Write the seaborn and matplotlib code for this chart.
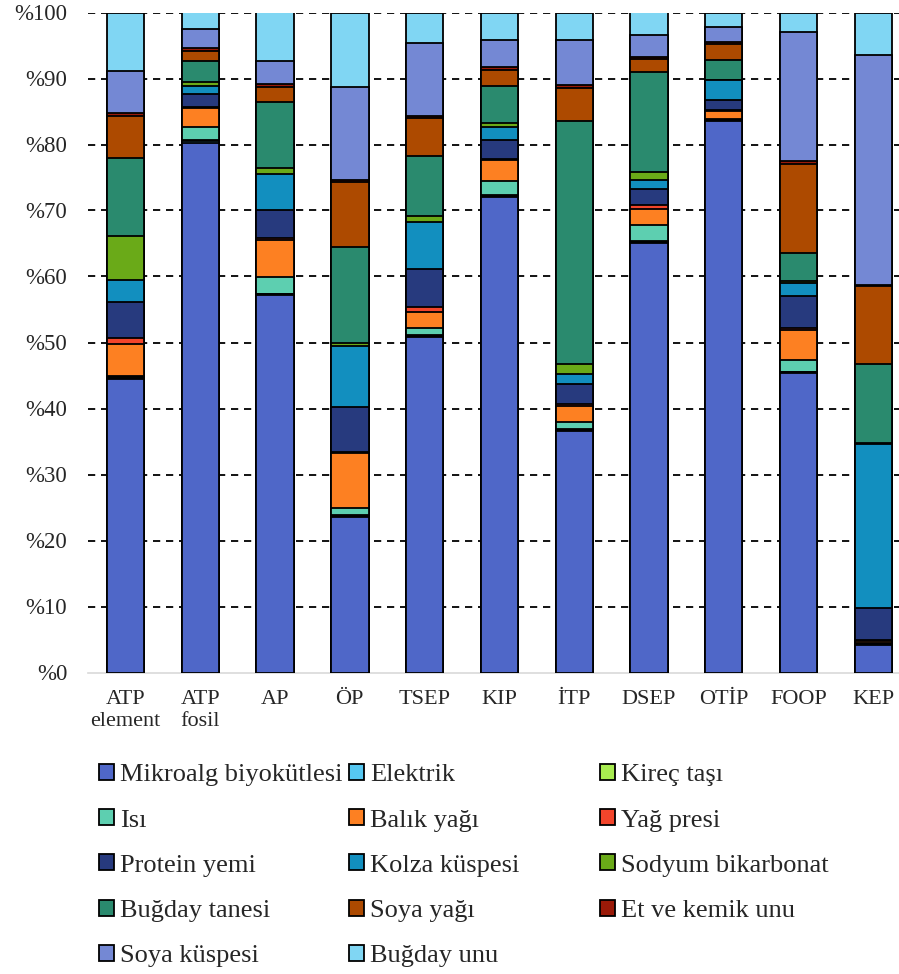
import numpy as np
import pandas as pd
import matplotlib.pyplot as plt
from matplotlib.patches import Patch
import seaborn as sns

# processes on the x axis
categories = ['ATP\nelement', 'ATP\nfosil', 'AP', 'ÖP', 'TSEP', 'KIP',
              'İTP', 'DSEP', 'OTİP', 'FOOP', 'KEP']

# share of each input (%), bottom to top of the stack
mikroalg    = [44.5, 80.3, 57.2, 23.6, 50.8, 72.0, 36.6, 65.0, 83.6, 45.4, 4.2]
elektrik    = [0.1, 0.2, 0.1, 0.1, 0.2, 0.2, 0.2, 0.2, 0.1, 0.1, 0.1]
kirec       = [0.1, 0.2, 0.0, 0.1, 0.1, 0.1, 0.1, 0.2, 0.0, 0.1, 0.0]
isi         = [0.2, 1.9, 2.6, 1.1, 1.1, 2.2, 1.0, 2.4, 0.2, 1.7, 0.1]
balik       = [4.8, 2.9, 5.7, 8.3, 2.4, 3.1, 2.5, 2.4, 1.2, 4.6, 0.3]
yag_presi   = [1.0, 0.2, 0.2, 0.2, 0.8, 0.2, 0.3, 0.7, 0.1, 0.3, 0.2]
protein     = [5.5, 2.0, 4.2, 6.9, 5.8, 2.9, 3.0, 2.3, 1.5, 4.8, 4.8]
kolza       = [3.3, 1.2, 5.5, 9.2, 7.0, 2.0, 1.6, 1.4, 3.0, 2.0, 24.9]
sodyum      = [6.6, 0.5, 1.0, 0.4, 1.0, 0.6, 1.4, 1.2, 0.1, 0.3, 0.1]
bugday_tane = [11.9, 3.3, 9.9, 14.6, 9.1, 5.6, 36.9, 15.2, 3.0, 4.3, 12.0]
soya_yagi   = [6.3, 1.5, 2.3, 9.8, 5.7, 2.4, 5.0, 1.9, 2.5, 13.5, 11.8]
et_kemik    = [0.4, 0.4, 0.4, 0.3, 0.3, 0.5, 0.4, 0.4, 0.2, 0.4, 0.2]
soya_kuspe  = [6.5, 2.9, 3.6, 14.1, 11.1, 4.0, 6.8, 3.3, 2.3, 19.5, 34.8]
bugday_unu  = [8.8, 2.5, 7.3, 11.3, 4.6, 4.2, 4.2, 3.4, 2.2, 3.0, 6.5]

series_names = ['Mikroalg biyokütlesi', 'Elektrik', 'Kireç taşı', 'Isı',
                'Balık yağı', 'Yağ presi', 'Protein yemi', 'Kolza küspesi',
                'Sodyum bikarbonat', 'Buğday tanesi', 'Soya yağı',
                'Et ve kemik unu', 'Soya küspesi', 'Buğday unu']
series_values = [mikroalg, elektrik, kirec, isi, balik, yag_presi, protein,
                 kolza, sodyum, bugday_tane, soya_yagi, et_kemik,
                 soya_kuspe, bugday_unu]
colors = ['#4f67c8', '#56c8f2', '#a8ec50', '#5dcfb0', '#fd8022', '#f3452b',
          '#273a7e', '#128fbf', '#6aaa18', '#2a8a6e', '#ad4a00', '#9a1a08',
          '#7488d4', '#80d6f3']

yticks = list(range(0, 101, 10))
ytick_labels = ['%' + str(v) for v in yticks]

df = pd.DataFrame(dict(zip(series_names, series_values)), index=categories)
cum = df.cumsum(axis=1)

sns.set_style('white')
plt.rcParams['font.family'] = ['Liberation Serif', 'DejaVu Serif']

fig = plt.figure(figsize=(8.99, 9.74), dpi=100)
W, H = 899, 974
ax = fig.add_axes([88 / W, 1 - 672.5 / H, (W - 88) / W, 660 / H])

# stacked bars: draw cumulative totals from the top series down
for name, col in reversed(list(zip(series_names, colors))):
    sns.barplot(x=categories, y=cum[name].values, color=col, saturation=1,
                width=0.5, edgecolor='black', linewidth=1.3, errorbar=None,
                ax=ax, zorder=3)

ax.set_xlim(-0.5, -0.5 + (W - 88) / 74.8)
ax.set_ylim(0, 100)
ax.set_yticks(yticks)
ax.set_yticklabels(ytick_labels)
ax.set_xlabel('')
ax.set_ylabel('')
ax.tick_params(axis='y', length=0, pad=15, labelsize=16.5)
ax.tick_params(axis='x', length=0, pad=12.5, labelsize=16)
for lab in ax.get_xticklabels():
    lab.set_linespacing(1.25)

ax.set_axisbelow(True)
ax.yaxis.grid(True, color='black', linestyle=(0, (4, 3.2)), linewidth=1.3)
ax.get_ygridlines()[0].set_visible(False)
for s in ['top', 'left', 'right']:
    ax.spines[s].set_visible(False)
ax.spines['bottom'].set_color('#d9d9d9')
ax.spines['bottom'].set_linewidth(1.2)

# legend in three columns filled row by row
handles = [Patch(facecolor=c, edgecolor='black', linewidth=1.3) for c in colors]
col_x = [99, 349, 600]
for k in range(3):
    leg = fig.legend(handles[k::3], series_names[k::3], loc='upper left',
                     bbox_to_anchor=(col_x[k] / W, 1 - 764 / H),
                     frameon=False, fontsize=19, borderpad=0,
                     borderaxespad=0, handlelength=0.55, handleheight=0.55,
                     handletextpad=0.25, labelspacing=0.87)

fig.savefig('out.png', dpi=100)
